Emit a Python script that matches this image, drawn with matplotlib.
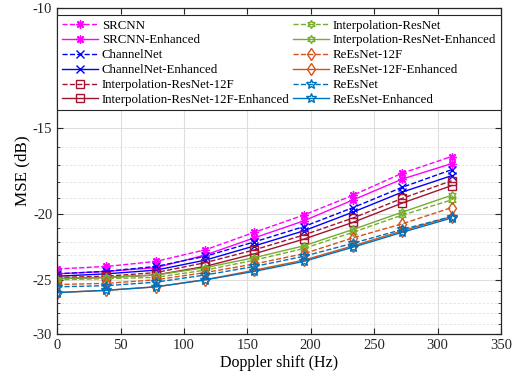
import numpy as np
import matplotlib.pyplot as plt
from matplotlib.ticker import FixedLocator, NullFormatter

plt.rcParams['font.family'] = ['Liberation Serif', 'DejaVu Serif']

# Doppler shift (Hz)
doppler = [0, 38.9, 77.8, 116.7, 155.6, 194.4, 233.3, 272.2, 311.1]

# MSE (dB)
srcnn = [-24.1, -23.9, -23.5, -22.6, -21.3, -20.1, -18.8, -17.45, -16.5]
srcnn_enh = [-24.5, -24.3, -24.0, -23.0, -21.7, -20.5, -19.1, -17.8, -16.9]
channelnet = [-24.5, -24.3, -23.9, -23.1, -22.0, -20.9, -19.6, -18.3, -17.25]
channelnet_enh = [-24.7, -24.5, -24.2, -23.4, -22.3, -21.2, -19.9, -18.6, -17.6]
interp12f = [-24.8, -24.7, -24.4, -23.6, -22.6, -21.5, -20.3, -19.0, -17.9]
interp12f_enh = [-24.9, -24.8, -24.6, -23.9, -22.9, -21.8, -20.6, -19.3, -18.2]
interp = [-25.0, -24.9, -24.8, -24.2, -23.4, -22.5, -21.3, -20.1, -19.1]
interp_enh = [-24.9, -24.8, -24.6, -24.0, -23.2, -22.3, -21.1, -19.9, -18.8]
reesnet12f = [-25.4, -25.3, -25.0, -24.4, -23.7, -22.9, -21.7, -20.7, -19.6]
reesnet12f_enh = [-26.1, -25.9, -25.6, -25.0, -24.2, -23.4, -22.3, -21.2, -20.2]
reesnet = [-25.6, -25.5, -25.2, -24.6, -23.9, -23.1, -22.1, -21.1, -20.2]
reesnet_enh = [-26.1, -25.9, -25.6, -25.0, -24.3, -23.5, -22.4, -21.3, -20.3]

magenta = '#FF00FF'
blue = '#0000FF'
brown = '#A2142F'
green = '#77AC30'
orange = '#D95319'
mblue = '#0072BD'

asterisk = (8, 2, 0)
hexagram = (6, 1, 0)

series = [
    ('SRCNN', srcnn, magenta, '--', asterisk),
    ('SRCNN-Enhanced', srcnn_enh, magenta, '-', asterisk),
    ('ChannelNet', channelnet, blue, '--', 'x'),
    ('ChannelNet-Enhanced', channelnet_enh, blue, '-', 'x'),
    ('Interpolation-ResNet-12F', interp12f, brown, '--', 's'),
    ('Interpolation-ResNet-12F-Enhanced', interp12f_enh, brown, '-', 's'),
    ('Interpolation-ResNet', interp, green, '--', hexagram),
    ('Interpolation-ResNet-Enhanced', interp_enh, green, '-', hexagram),
    ('ReEsNet-12F', reesnet12f, orange, '--', 'd'),
    ('ReEsNet-12F-Enhanced', reesnet12f_enh, orange, '-', 'd'),
    ('ReEsNet', reesnet, mblue, '--', '*'),
    ('ReEsNet-Enhanced', reesnet_enh, mblue, '-', '*'),
]

fig = plt.figure(figsize=(5.24, 3.79), dpi=100)
ax = fig.add_axes([0.109, 0.119, 0.847, 0.860])

# y axis is logarithmic in |MSE|
fwd = lambda y: -np.log10(np.clip(-np.asarray(y, dtype=float), 1e-3, None))
inv = lambda u: -10.0 ** (-np.asarray(u, dtype=float))
ax.set_yscale('function', functions=(fwd, inv))

for label, vals, col, ls, mk in series:
    ms = 7 if mk == '*' else 6
    ax.plot(doppler, vals, color=col, linestyle=ls, marker=mk, markersize=ms,
            markerfacecolor='none', markeredgecolor=col, linewidth=1.0,
            markeredgewidth=1.0, label=label)

ax.set_xlim(0, 350)
ax.set_ylim(-30, -10)
ax.set_xticks(np.arange(0, 351, 50))
ax.yaxis.set_major_locator(FixedLocator([-30, -25, -20, -15, -10]))
ax.yaxis.set_minor_locator(FixedLocator(np.arange(-29, -10)))
ax.yaxis.set_minor_formatter(NullFormatter())
ax.set_yticklabels(['-30', '-25', '-20', '-15', '-10'])

ax.grid(True, which='major', color='#dedede', linewidth=0.8)
ax.grid(True, which='minor', axis='y', color='#e2e2e2', linestyle=(0, (3, 2)), linewidth=0.6)
ax.set_axisbelow(True)

ax.tick_params(which='both', direction='in', top=True, right=True, labelsize=10.5, colors='#262626')
ax.tick_params(which='major', length=4, width=0.8)
ax.tick_params(which='minor', length=2.5, width=0.6)
for s in ax.spines.values():
    s.set_color('#262626')
    s.set_linewidth(0.9)

ax.set_xlabel('Doppler shift (Hz)', fontsize=11.5, labelpad=2)
ax.set_ylabel('MSE (dB)', fontsize=12.3, labelpad=2)

leg = ax.legend(loc='upper left', ncol=2, mode='expand', fontsize=9.3, frameon=True,
                fancybox=False, edgecolor='#262626', framealpha=1, labelspacing=0.22,
                handlelength=2.8, handletextpad=0.3, columnspacing=0.5, borderpad=0.35,
                borderaxespad=0, bbox_to_anchor=(0.0, 0.0, 1.0, 0.9785))
leg.get_frame().set_linewidth(0.8)

fig.savefig('out.png', dpi=100)
